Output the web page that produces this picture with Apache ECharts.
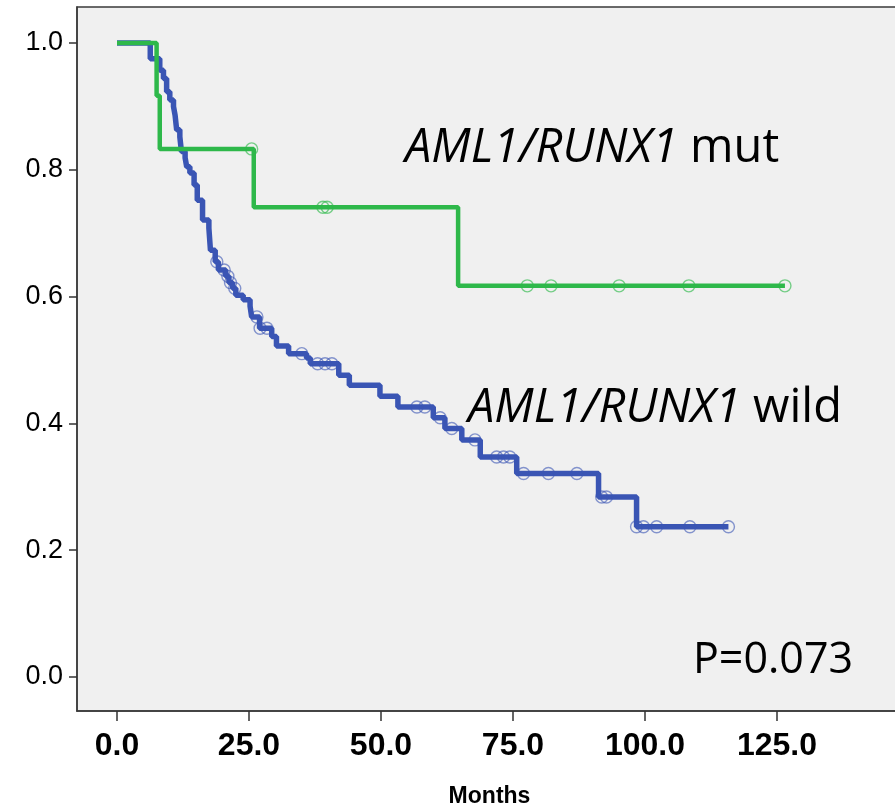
<!DOCTYPE html>
<html>
<head>
<meta charset="utf-8">
<script src="https://cdn.jsdelivr.net/npm/echarts@6/dist/echarts.min.js"></script>
<style>
  html, body { margin: 0; padding: 0; background: #ffffff; }
  #chart { width: 895px; height: 810px; }
</style>
</head>
<body>
<div id="chart"></div>
<script>
// Axis ticks
const monthTicks = [0, 25, 50, 75, 100, 125];
const survivalTicks = [0, 0.2, 0.4, 0.6, 0.8, 1.0];

// AML1/RUNX1 mutated: event times (months) and survival after each event
const mutTimes = [0, 7.5, 8.1, 25.9, 64.6];
const mutSurv = [1.0, 0.917, 0.833, 0.741, 0.617];
// censored cases (months)
const mutCensored = [25.5, 39.0, 39.8, 77.7, 82.2, 95.1, 108.3, 126.5];

// AML1/RUNX1 wild type: event times (months) and survival after each event
const wildTimes = [0, 6.3, 8.1, 8.8, 9.4, 10.0, 10.7, 11.0, 11.3, 11.9, 12.2, 12.9, 13.2, 13.8,
  14.6, 15.2, 16.2, 17.4, 17.7, 18.6, 19.2, 20.6, 21.2, 21.9, 22.5, 23.9, 25.2, 25.5, 27.0,
  29.3, 30.2, 32.5, 35.9, 36.6, 42.0, 44.0, 49.8, 53.2, 59.9, 62.1, 65.3, 68.8, 75.7, 91.2, 98.4];
const wildSurv = [1.0, 0.975, 0.957, 0.944, 0.923, 0.910, 0.900, 0.886, 0.863, 0.852, 0.829, 0.819, 0.805, 0.795,
  0.776, 0.752, 0.721, 0.708, 0.673, 0.655, 0.642, 0.632, 0.622, 0.613, 0.602, 0.595, 0.585, 0.568, 0.550,
  0.537, 0.522, 0.510, 0.503, 0.494, 0.476, 0.460, 0.443, 0.426, 0.409, 0.392, 0.374, 0.347, 0.321, 0.284, 0.237];
const wildCensored = [18.9, 20.3, 21.0, 21.5, 22.3, 26.5, 27.1, 28.4, 35.0, 38.0, 39.4, 40.7,
  56.8, 58.3, 61.2, 63.4, 67.8, 71.9, 73.2, 74.4, 77.0, 81.7, 87.1, 91.8, 92.7,
  98.4, 99.7, 102.2, 108.5, 115.8];

const BLUE = '#3a55b4';
const GREEN = '#2eb84a';

// Kaplan-Meier step value at time t
function survivalAt(times, surv, t) {
  let s = surv[0];
  for (let i = 0; i < times.length; i++) {
    if (times[i] <= t) s = surv[i];
  }
  return s;
}

function curve(times, surv, censored) {
  const pts = times.map((t, i) => [t, surv[i]]);
  const last = Math.max(...censored, times[times.length - 1]);
  pts.push([last, surv[surv.length - 1]]);
  return pts;
}

function censorPoints(times, surv, censored) {
  return censored.map(t => [t, survivalAt(times, surv, t)]);
}

const chart = echarts.init(document.getElementById('chart'), null, { renderer: 'canvas' });

const labelFont = '"Liberation Sans", Arial, sans-serif';
const noteFont = '"Open Sans", Lato, sans-serif';
const frameColor = '#3a3a3a';

// Hidden helper axes whose zero sits on the frame edges, so the visible
// axes (anchored "on zero" of these helpers) run along the frame.
const edgeAxis = { type: 'value', show: false, min: 0, max: 1 };

chart.setOption({
  animation: false,
  backgroundColor: '#ffffff',
  grid: {
    left: 77,
    top: 7,
    width: 825,
    height: 704,
    outerBoundsMode: 'none',
    show: true,
    backgroundColor: '#f0f0f0',
    borderColor: frameColor,
    borderWidth: 1.5
  },
  xAxis: [
    {
      type: 'value',
      min: -7.576,
      max: 148.67,
      name: 'Months',
      nameLocation: 'middle',
      nameGap: 74,
      nameTextStyle: {
        fontFamily: labelFont,
        fontWeight: 'bold',
        fontSize: 23,
        color: '#000'
      },
      axisLine: { show: true, onZero: true, onZeroAxisIndex: 1, lineStyle: { color: frameColor, width: 1.5 } },
      splitLine: { show: false },
      axisTick: {
        show: true,
        customValues: monthTicks,
        length: 10,
        lineStyle: { color: '#333333', width: 1.5 }
      },
      axisLabel: {
        customValues: monthTicks,
        formatter: v => v.toFixed(1),
        fontFamily: labelFont,
        fontWeight: 'bold',
        fontSize: 32,
        color: '#000',
        margin: 19
      }
    },
    edgeAxis
  ],
  yAxis: [
    {
      type: 'value',
      min: -0.0536,
      max: 1.0568,
      axisLine: { show: true, onZero: true, onZeroAxisIndex: 1, lineStyle: { color: frameColor, width: 1.5 } },
      splitLine: { show: false },
      axisTick: {
        show: true,
        customValues: survivalTicks,
        length: 8,
        lineStyle: { color: '#333333', width: 1.5 }
      },
      axisLabel: {
        customValues: survivalTicks,
        formatter: v => v.toFixed(1),
        fontFamily: labelFont,
        fontSize: 27,
        color: '#000',
        margin: 14
      }
    },
    edgeAxis
  ],
  series: [
    {
      name: 'wild',
      type: 'line',
      step: 'end',
      data: curve(wildTimes, wildSurv, wildCensored),
      showSymbol: false,
      lineStyle: { color: BLUE, width: 5.5 },
      z: 2
    },
    {
      name: 'wild censored',
      type: 'scatter',
      data: censorPoints(wildTimes, wildSurv, wildCensored),
      symbol: 'circle',
      symbolSize: 12,
      itemStyle: { color: 'rgba(0,0,0,0)', borderColor: 'rgba(58,85,180,0.75)', borderWidth: 1.4 },
      z: 3
    },
    {
      name: 'mut',
      type: 'line',
      step: 'end',
      data: curve(mutTimes, mutSurv, mutCensored),
      showSymbol: false,
      lineStyle: { color: GREEN, width: 4.5 },
      z: 4
    },
    {
      name: 'mut censored',
      type: 'scatter',
      data: censorPoints(mutTimes, mutSurv, mutCensored),
      symbol: 'circle',
      symbolSize: 12,
      itemStyle: { color: 'rgba(0,0,0,0)', borderColor: 'rgba(46,184,74,0.8)', borderWidth: 1.4 },
      z: 5
    }
  ],
  graphic: [
    {
      type: 'text',
      left: 405,
      top: 125,
      style: {
        text: '{i|AML1/RUNX1} mut',
        font: '47px ' + noteFont,
        fill: '#000',
        rich: {
          i: { fontStyle: 'italic', fontSize: 47, fontFamily: noteFont, fill: '#000' }
        }
      }
    },
    {
      type: 'text',
      left: 468,
      top: 385,
      style: {
        text: '{i|AML1/RUNX1} wild',
        font: '47px ' + noteFont,
        fill: '#000',
        rich: {
          i: { fontStyle: 'italic', fontSize: 47, fontFamily: noteFont, fill: '#000' }
        }
      }
    },
    {
      type: 'text',
      left: 693,
      top: 639,
      style: {
        text: 'P=0.073',
        font: '43px ' + noteFont,
        fill: '#000'
      }
    }
  ]
});
</script>
</body>
</html>
